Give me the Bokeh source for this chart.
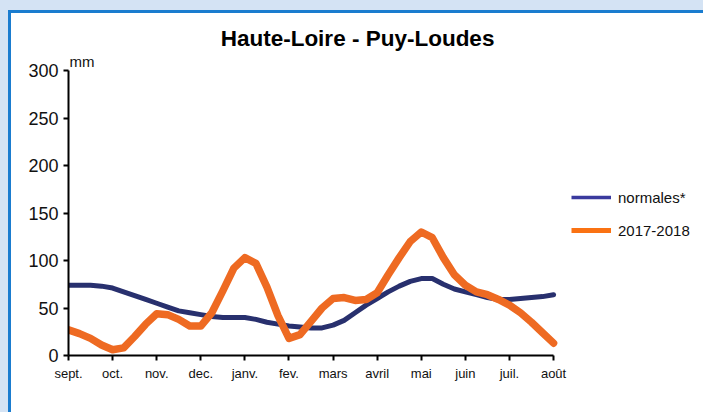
from bokeh.plotting import figure
from bokeh.models import (Range1d, FixedTicker, Label, Legend, LegendItem,
                          ColumnDataSource)
from bokeh.embed import file_html
from bokeh.resources import INLINE

# ---- data (quarter-month steps) ----
months = ["sept.", "oct.", "nov.", "dec.", "janv.", "fev.", "mars", "avril",
          "mai", "juin", "juil.", "août"]
x_pos = [0, 0.25, 0.5, 0.75, 1, 1.25, 1.5, 1.75, 2, 2.25, 2.5, 2.75, 3,
         3.25, 3.5, 3.75, 4, 4.25, 4.5, 4.75, 5, 5.25, 5.5, 5.75, 6, 6.25,
         6.5, 6.75, 7, 7.25, 7.5, 7.75, 8, 8.25, 8.5, 8.75, 9, 9.25, 9.5,
         9.75, 10, 10.25, 10.5, 10.75, 11]
normales = [74, 74, 74, 73, 71, 67, 63, 59, 55, 51, 47, 45, 43, 41, 40, 40,
            40, 38, 35, 33, 31, 30, 29, 29, 32, 37, 45, 53, 60, 67, 73, 78,
            81, 81, 75, 70, 67, 64, 61, 59, 59, 60, 61, 62, 64]
annee = [27, 23, 18, 11, 6, 8, 20, 33, 44, 43, 38, 31, 31, 45, 68, 92, 103,
         97, 72, 42, 18, 22, 36, 50, 60, 61, 58, 59, 66, 85, 103, 120, 130,
         124, 103, 85, 74, 67, 64, 59, 53, 45, 35, 24, 13]
y_ticks = [0, 50, 100, 150, 200, 250, 300]

FONT = "Liberation Sans"
NAVY = "#28306e"
ORANGE = "#ee6a22"

# the frame spans the whole white panel; the axes are bounded to the data
p = figure(width=698, height=403, output_backend="svg", toolbar_location=None,
           x_range=Range1d(0, 14.4), y_range=Range1d(0, 360),
           min_border_left=57, min_border_top=0, min_border_right=6,
           min_border_bottom=61)
p.styles = {"border-left": "3px solid #1a7ccf", "border-top": "3px solid #1a7ccf",
            "background-color": "white"}
p.border_fill_color = "white"
p.background_fill_color = "white"
p.outline_line_color = None
p.xgrid.visible = False
p.ygrid.visible = False

src = ColumnDataSource(dict(x=x_pos, n=normales, a=annee))
p.line("x", "n", source=src, line_color=NAVY, line_width=5,
       line_join="round", line_cap="round")
p.line("x", "a", source=src, line_color=ORANGE, line_width=7.5,
       line_join="round", line_cap="round")

# legend-only proxies (thinner samples, as in the reference; nothing drawn)
proxy = ColumnDataSource(dict(x=[float("nan")], y=[float("nan")]))
ln = p.line("x", "y", source=proxy, line_color="#3a3a9e", line_width=3.5)
la = p.line("x", "y", source=proxy, line_color="#fa7213", line_width=5)
legend = Legend(items=[LegendItem(label="normales*", renderers=[ln]),
                       LegendItem(label="2017-2018", renderers=[la])],
                location=(503, 115), padding=0, margin=0, spacing=13,
                glyph_width=40, glyph_height=20, label_height=20,
                label_standoff=7, border_line_alpha=0,
                background_fill_alpha=0, label_text_font=FONT,
                label_text_font_size="15px", label_text_color="#111111")
p.add_layout(legend)

for ax in (p.xaxis[0], p.yaxis[0]):
    ax.axis_line_width = 2
    ax.axis_line_color = "black"
    ax.major_tick_line_width = 2
    ax.major_tick_line_color = "black"
    ax.major_tick_in = 0
    ax.major_tick_out = 5
    ax.minor_tick_line_color = None
    ax.major_label_text_font = FONT
    ax.major_label_text_color = "#111111"

p.xaxis.bounds = (0, 11)
p.xaxis.ticker = FixedTicker(ticks=list(range(12)))
p.xaxis.major_label_overrides = {i: m for i, m in enumerate(months)}
p.xaxis.major_label_text_font_size = "13px"
p.xaxis.major_label_standoff = 5

p.yaxis.bounds = (0, 300)
p.yaxis.ticker = FixedTicker(ticks=y_ticks)
p.yaxis.major_label_text_font_size = "18px"
p.yaxis.major_label_standoff = 5

p.add_layout(Label(x=6.554, y=334.2, text="Haute-Loire - Puy-Loudes",
                   text_align="center", text_baseline="alphabetic",
                   text_font=FONT, text_font_style="bold",
                   text_font_size="22.5px", text_color="black"))
p.add_layout(Label(x=0.02, y=309.5, text="mm", text_align="left",
                   text_baseline="alphabetic", text_font=FONT,
                   text_font_size="15px", text_color="#111111"))

html = file_html(p, INLINE)
html = html.replace(
    "</head>",
    "<style>html{background:linear-gradient(to right,#d4e3f4 8px,transparent 8px),"
    "linear-gradient(to bottom,#d4e3f4 10px,#ffffff 10px);min-height:100%}"
    "html,body{margin:0;padding:0;overflow:hidden}"
    "body{background:transparent;padding:10px 0 0 8px}</style></head>", 1)
open("out.html", "w").write(html)
